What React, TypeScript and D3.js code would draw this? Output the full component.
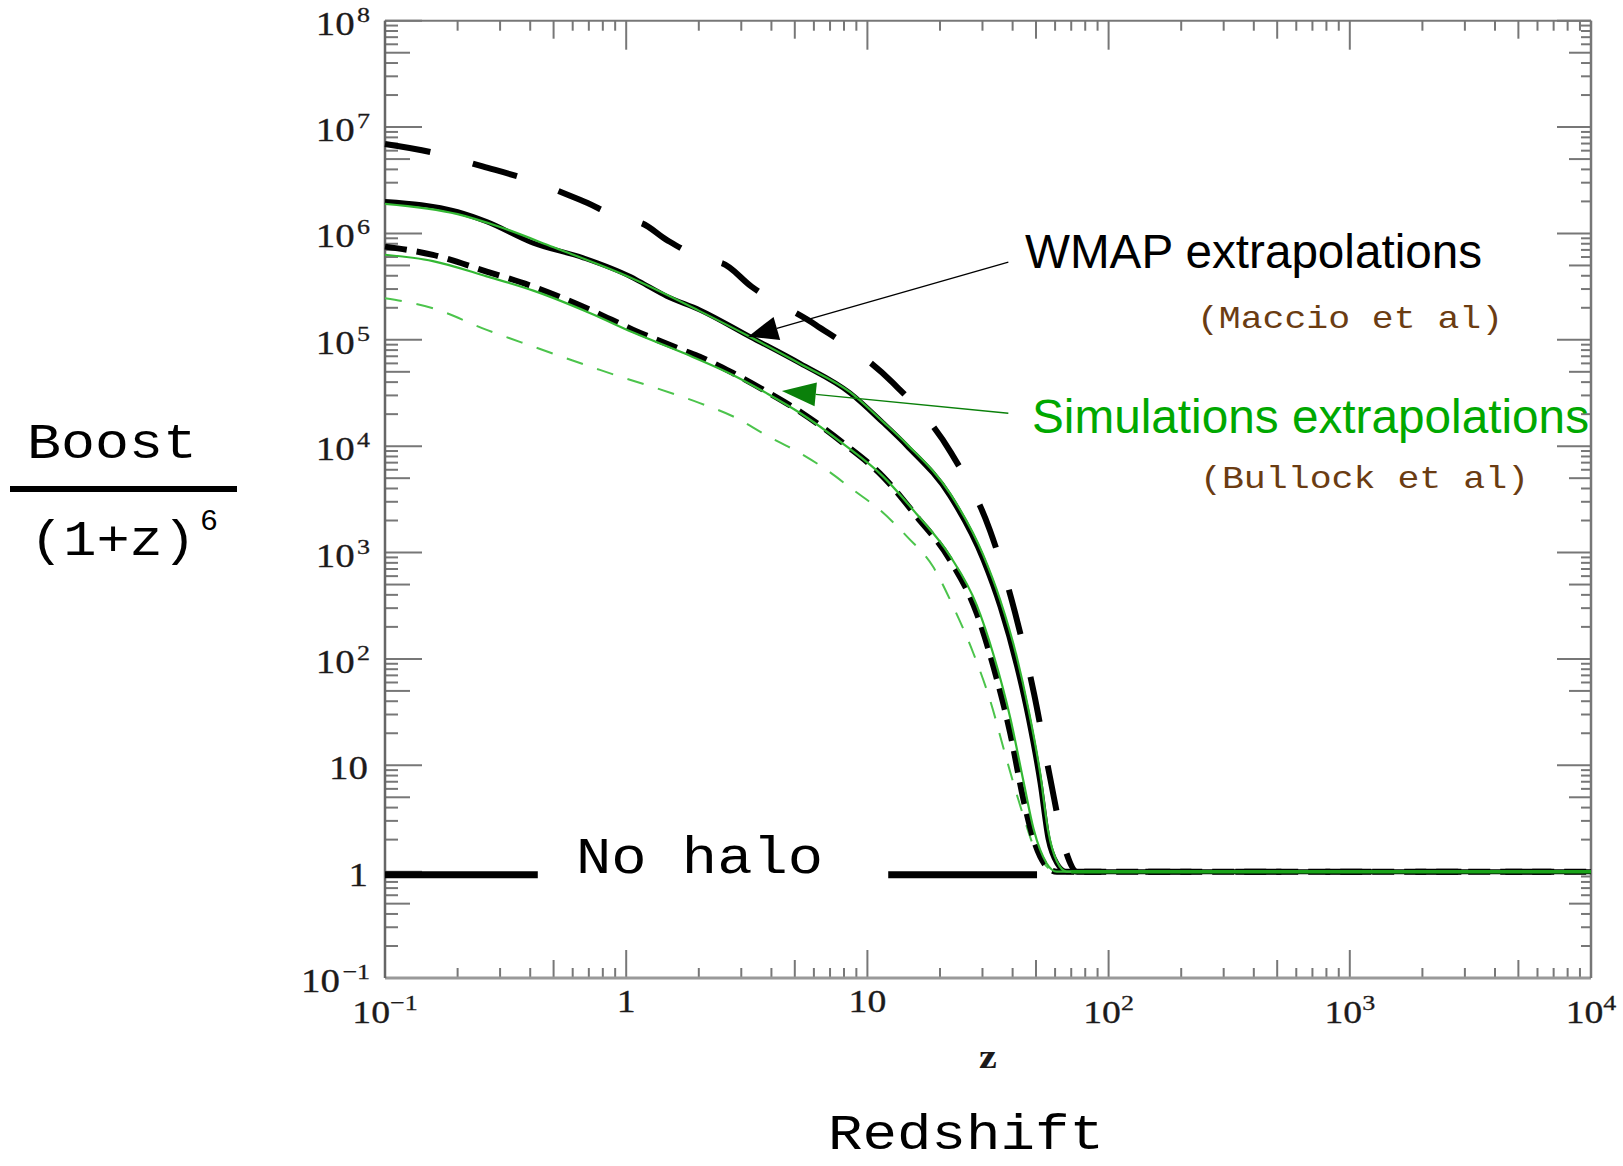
import React from "react";
import * as d3 from "d3";

// ---------- data ----------
// WMAP extrapolation, upper (thick long-dashed black)
const wmapHighZ = [0.1, 0.158, 0.254, 0.411, 0.643, 1.07, 1.14, 1.47, 2.29, 2.49, 3.31, 6.11, 12.7, 22.2, 32.2, 40.9, 49.1, 57.1, 66.5, 74.1, 10000];
const wmapHighB = [6.92e6, 5.75e6, 4.27e6, 3.09e6, 2.07e6, 1.29e6, 1.26e6, 8.7e5, 5.43e5, 5.25e5, 3.16e5, 1.38e5, 3.98e4, 8.7e3, 1.62e3, 275, 46.8, 7.8, 1.55, 1, 1];

// WMAP extrapolation, central (thick solid black)
const wmapMidZ = [0.1, 0.2, 0.264, 0.412, 0.664, 1.04, 1.14, 1.47, 2.02, 3.26, 5.26, 8.47, 11.6, 14.6, 22.0, 30.2, 35.5, 41.6, 46.6, 52.0, 56.2, 61.0, 67.0, 10000];
const wmapMidB = [2.0e6, 1.6e6, 1.29e6, 8.1e5, 5.9e5, 3.93e5, 3.52e5, 2.57e5, 1.91e5, 1.07e5, 6.0e4, 3.16e4, 1.66e4, 1.0e4, 3.39e3, 851, 309, 85, 26.9, 6.8, 2.0, 1.2, 1, 1];

// WMAP extrapolation, lower (thick short-dashed black)
const wmapLowZ = [0.1, 0.158, 0.264, 0.412, 0.71, 1.07, 1.73, 2.02, 2.78, 3.82, 5.26, 7.94, 11.6, 16.0, 22.0, 28.4, 33.3, 39.1, 44.4, 48.9, 55.3, 61.0, 10000];
const wmapLowB = [7.52e5, 6.28e5, 4.38e5, 3.16e5, 1.91e5, 1.24e5, 7.94e4, 6.92e4, 4.85e4, 3.26e4, 2.11e4, 1.07e4, 5.18e3, 2.18e3, 853, 269, 84.9, 20.1, 4.74, 2.0, 1.12, 1, 1];

// Simulation extrapolations (green)
const simHighZ = [0.1, 0.2, 0.3, 0.5, 1.0, 2.0, 3.3, 5.3, 8.5, 11.6, 14.6, 22.0, 30.2, 35.5, 41.6, 46.6, 52.0, 56.2, 61.0, 67.0, 10000];
const simHighB = [1.9e6, 1.52e6, 1.15e6, 7.4e5, 4.0e5, 1.88e5, 1.05e5, 5.9e4, 3.2e4, 1.7e4, 1.04e4, 3.6e3, 950, 360, 105, 33, 8.5, 2.4, 1.25, 1, 1];

const simMidZ = [0.1, 0.158, 0.264, 0.412, 0.71, 1.07, 1.73, 2.78, 3.82, 5.26, 7.94, 11.6, 16.0, 22.0, 28.4, 33.3, 39.1, 44.4, 48.9, 55.3, 61.0, 10000];
const simMidB = [6.3e5, 5.5e5, 3.95e5, 2.9e5, 1.78e5, 1.17e5, 7.5e4, 4.65e4, 3.15e4, 2.05e4, 1.05e4, 5.2e3, 2.3e3, 930, 320, 110, 28, 7, 2.5, 1.2, 1, 1];

const simLowZ = [0.1, 0.158, 0.264, 0.412, 0.778, 1.73, 2.02, 2.78, 3.82, 5.26, 6.78, 8.73, 11.3, 14.6, 18.7, 22.7, 27.5, 32.2, 37.8, 44.4, 48.9, 55.3, 61.0, 10000];
const simLowB = [2.46e5, 1.98e5, 1.24e5, 8.63e4, 5.21e4, 2.88e4, 2.54e4, 1.9e4, 1.26e4, 8.6e3, 5.98e3, 3.88e3, 2.5e3, 1.41e3, 738, 310, 113, 41.4, 11.3, 3.3, 1.73, 1.12, 1, 1];

// "No halo" level segments (z ranges at Boost/(1+z)^6 = 1)
const noHaloSegments = [[0.1, 0.43], [12.2, 50.5]];
const noHaloLevel = 1;

// annotation arrows [tailZ, tailB, tipZ, tipB]
const wmapArrow = [38.4, 5.37e5, 3.2, 1.07e5];
const simArrow = [38.4, 2.04e4, 4.42, 3.3e4];

// tick labels
const xTickLabels = [
  { v: 0.1, base: "10", sup: "\u22121" },
  { v: 1, base: "1", sup: "" },
  { v: 10, base: "10", sup: "" },
  { v: 100, base: "10", sup: "2" },
  { v: 1000, base: "10", sup: "3" },
  { v: 10000, base: "10", sup: "4" },
];
const yTickLabels = [
  { v: 0.1, base: "10", sup: "\u22121" },
  { v: 1, base: "1", sup: "" },
  { v: 10, base: "10", sup: "" },
  { v: 1e2, base: "10", sup: "2" },
  { v: 1e3, base: "10", sup: "3" },
  { v: 1e4, base: "10", sup: "4" },
  { v: 1e5, base: "10", sup: "5" },
  { v: 1e6, base: "10", sup: "6" },
  { v: 1e7, base: "10", sup: "7" },
  { v: 1e8, base: "10", sup: "8" },
];

// ---------- layout / style ----------
const W = 1623;
const H = 1166;
const PL = 385, PR = 1591, PT = 20.7, PB = 978;
const SERIF = "'Liberation Serif', 'Times New Roman', serif";
const MONO = "'Liberation Mono', 'Courier New', monospace";
const SANS = "'Liberation Sans', Arial, sans-serif";
const TICK = "#777";
const LABEL = "#1c1a1a";
const GREEN_LINE = "#33b833";
const BROWN = "#6b3c12";
const STRETCH = 1.18;

function tickKind(v: number) {
  const l = Math.log10(v);
  const r = Math.round(l);
  if (Math.abs(l - r) < 1e-9) return 2;
  const m = v / Math.pow(10, Math.floor(l + 1e-9));
  if (Math.abs(m - 5) < 1e-6) return 1;
  return 0;
}

function arrowHead(x0: number, y0: number, x1: number, y1: number, len: number, half: number) {
  const dx = x1 - x0, dy = y1 - y0;
  const d = Math.hypot(dx, dy);
  const ux = dx / d, uy = dy / d;
  const bx = x1 - ux * len, by = y1 - uy * len;
  return {
    pts: `${x1},${y1} ${bx - uy * half},${by + ux * half} ${bx + uy * half},${by - ux * half}`,
    bx, by,
  };
}

export default function App() {
  const x = d3.scaleLog().domain([0.1, 1e4]).range([PL, PR]);
  const y = d3.scaleLog().domain([0.1, 1e8]).range([PB, PT]);
  const line = d3
    .line<[number, number]>()
    .x((d) => x(d[0]))
    .y((d) => y(d[1]))
    .curve(d3.curveMonotoneX);
  const path = (zs: number[], bs: number[]) => line(zs.map((z, i) => [z, bs[i]] as [number, number])) || "";

  const xt = x.ticks();
  const yt = y.ticks();
  const xLen = [10, 18, 28];
  const yLen = [13, 25, 37];

  const series = [
    { z: simLowZ, b: simLowB, stroke: "#4cc44c", w: 2, dash: "17 15" },
    { z: wmapLowZ, b: wmapLowB, stroke: "#000", w: 6, dash: "22 10" },
    { z: wmapHighZ, b: wmapHighB, stroke: "#000", w: 6, dash: "46 44" },
    { z: wmapMidZ, b: wmapMidB, stroke: "#000", w: 5, dash: "" },
    { z: simMidZ, b: simMidB, stroke: GREEN_LINE, w: 2.2, dash: "" },
    { z: simHighZ, b: simHighB, stroke: GREEN_LINE, w: 2.2, dash: "" },
  ];

  const a1 = { x0: x(wmapArrow[0]), y0: y(wmapArrow[1]), x1: x(wmapArrow[2]), y1: y(wmapArrow[3]) };
  const h1 = arrowHead(a1.x0, a1.y0, a1.x1, a1.y1, 30, 12);
  const a2 = { x0: x(simArrow[0]), y0: y(simArrow[1]), x1: x(simArrow[2]), y1: y(simArrow[3]) };
  const h2 = arrowHead(a2.x0, a2.y0, a2.x1, a2.y1, 34, 12);

  return (
    <svg
      width={W}
      height={H}
      viewBox={`0 0 ${W} ${H}`}
      style={{ position: "absolute", left: 0, top: 0, display: "block", background: "#fff" }}
    >
      <rect x={0} y={0} width={W} height={H} fill="#fff" />

      {/* ticks: bottom & top */}
      {xt.map((v, i) => {
        const k = tickKind(v);
        const px = x(v);
        return (
          <g key={"xt" + i} stroke={TICK} strokeWidth={2}>
            <line x1={px} x2={px} y1={PB} y2={PB - xLen[k]} />
            <line x1={px} x2={px} y1={PT} y2={PT + xLen[k] + (k === 2 ? 1 : 0)} />
          </g>
        );
      })}
      {/* ticks: left & right */}
      {yt.map((v, i) => {
        const k = tickKind(v);
        const py = y(v);
        return (
          <g key={"yt" + i} stroke={TICK} strokeWidth={2}>
            <line x1={PL} x2={PL + yLen[k]} y1={py} y2={py} />
            <line x1={PR} x2={PR - yLen[k] + 3} y1={py} y2={py} />
          </g>
        );
      })}

      {/* frame */}
      <line x1={PL} x2={PR} y1={PT} y2={PT} stroke="#777" strokeWidth={2} />
      <line x1={PL} x2={PR} y1={PB} y2={PB} stroke="#999" strokeWidth={3} />
      <line x1={PL} x2={PL} y1={PT} y2={PB} stroke="#666" strokeWidth={2.5} />
      <line x1={PR} x2={PR} y1={PT} y2={PB} stroke="#777" strokeWidth={2.5} />

      {/* x tick labels */}
      {xTickLabels.map((t, i) => (
        <text
          key={"xl" + i}
          transform={`translate(${x(t.v)},${t.sup ? 1023 : 1012}) scale(${STRETCH},1)`}
          textAnchor="middle"
          fontFamily={SERIF}
          fontSize={32}
          fill={LABEL}
          stroke={LABEL}
          strokeWidth={0.3}
        >
          {t.base}
          {t.sup && (
            <tspan fontSize={22} dy={-13}>
              {t.sup}
            </tspan>
          )}
        </text>
      ))}
      {/* y tick labels */}
      {yTickLabels.map((t, i) => (
        <text
          key={"yl" + i}
          transform={`translate(${t.sup ? 370 : 368},${y(t.v) + 14}) scale(${STRETCH},1)`}
          textAnchor="end"
          fontFamily={SERIF}
          fontSize={33}
          fill={LABEL}
          stroke={LABEL}
          strokeWidth={0.3}
        >
          {t.base}
          {t.sup && (
            <tspan fontSize={22} dx={2} dy={-13}>
              {t.sup}
            </tspan>
          )}
        </text>
      ))}

      {/* no-halo segments */}
      {noHaloSegments.map((s, i) => (
        <line
          key={"nh" + i}
          x1={x(s[0])}
          x2={x(s[1])}
          y1={y(noHaloLevel) + 3}
          y2={y(noHaloLevel) + 3}
          stroke="#000"
          strokeWidth={7}
        />
      ))}

      {/* curves */}
      {series.map((s, i) => (
        <path
          key={"s" + i}
          d={path(s.z, s.b)}
          fill="none"
          stroke={s.stroke}
          strokeWidth={s.w}
          strokeDasharray={s.dash || undefined}
          strokeLinejoin="round"
        />
      ))}
      {/* plateau green highlight */}
      <line x1={x(70)} x2={PR} y1={y(1)} y2={y(1)} stroke="#1aa31a" strokeWidth={3.5} />

      {/* arrows */}
      <line x1={a1.x0} y1={a1.y0} x2={h1.bx} y2={h1.by} stroke="#000" strokeWidth={1.3} />
      <polygon points={h1.pts} fill="#000" />
      <line x1={a2.x0} y1={a2.y0} x2={h2.bx} y2={h2.by} stroke="#0a800a" strokeWidth={1.3} />
      <polygon points={h2.pts} fill="#0a800a" />

      {/* annotations */}
      <text x={1025} y={268} fontFamily={SANS} fontSize={48} fill="#000" textLength={457} lengthAdjust="spacingAndGlyphs">
        WMAP extrapolations
      </text>
      <text x={1197} y={328} fontFamily={MONO} fontSize={32} fill={BROWN} textLength={306} lengthAdjust="spacingAndGlyphs">
        (Maccio et al)
      </text>
      <text x={1032} y={433} fontFamily={SANS} fontSize={48} fill="#00a800" textLength={557} lengthAdjust="spacingAndGlyphs">
        Simulations extrapolations
      </text>
      <text x={1200} y={488} fontFamily={MONO} fontSize={32} fill={BROWN} textLength={329} lengthAdjust="spacingAndGlyphs">
        (Bullock et al)
      </text>

      <text x={576} y={873} fontFamily={MONO} fontSize={52} fill="#000" textLength={247} lengthAdjust="spacingAndGlyphs">
        No halo
      </text>

      {/* axis titles */}
      <text
        transform={`translate(988,1068) scale(${STRETCH},1)`}
        textAnchor="middle"
        fontFamily={SERIF}
        fontWeight="bold"
        fontSize={34}
        fill={LABEL}
      >
        z
      </text>
      <text x={828} y={1149} fontFamily={MONO} fontSize={50} fill="#000" textLength={276} lengthAdjust="spacingAndGlyphs">
        Redshift
      </text>

      <text x={27} y={458} fontFamily={MONO} fontSize={50} fill="#000" textLength={170} lengthAdjust="spacingAndGlyphs">
        Boost
      </text>
      <line x1={10} x2={237} y1={489} y2={489} stroke="#000" strokeWidth={6} />
      <text x={30} y={555} fontFamily={MONO} fontSize={50} fill="#000" textLength={166} lengthAdjust="spacingAndGlyphs">
        (1+z)
      </text>
      <text x={200} y={530} fontFamily={MONO} fontSize={30} fill="#000">
        6
      </text>
    </svg>
  );
}
